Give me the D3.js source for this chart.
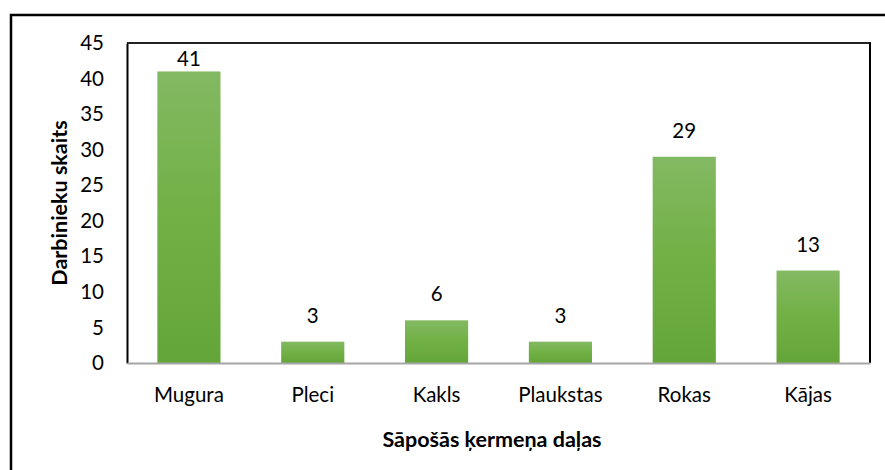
<!DOCTYPE html>
<html><head><meta charset="utf-8">
<script src="https://cdn.jsdelivr.net/npm/d3@7/dist/d3.min.js"></script>
<style>
body{margin:0;background:#fff;}
text{font-family:Lato,"Open Sans",sans-serif;fill:#000;}
</style></head>
<body><svg id="c" width="885" height="470"></svg>
<script>
const categories = ["Mugura","Pleci","Kakls","Plaukstas","Rokas","Kājas"];
const values = [41,3,6,3,29,13];
const yTicks = [0,5,10,15,20,25,30,35,40,45];
const yTitle = "Darbinieku skaits";
const xTitle = "Sāpošās ķermeņa daļas";

const svg = d3.select("#c");
const L=127, R=870, T=43, B=363;
const FS = 20.5;

// outer border
svg.append("rect").attr("x",11).attr("y",15).attr("width",900).attr("height",500)
  .attr("fill","none").attr("stroke","#000").attr("stroke-width",2.5);

const defs = svg.append("defs");
const g = defs.append("linearGradient").attr("id","gr").attr("x1",0).attr("y1",0).attr("x2",0).attr("y2",1);
g.append("stop").attr("offset","0%").attr("stop-color","#83b963");
g.append("stop").attr("offset","50%").attr("stop-color","#71b044");
g.append("stop").attr("offset","100%").attr("stop-color","#64a53a");

const x = d3.scaleBand().domain(categories).range([L,R]).paddingInner(0.49).paddingOuter(0.245);
const y = d3.scaleLinear().domain([0,45]).range([B,T]);

// plot frame
svg.append("line").attr("x1",L).attr("x2",R+1).attr("y1",T).attr("y2",T).attr("stroke","#222").attr("stroke-width",2);
svg.append("line").attr("x1",R).attr("x2",R).attr("y1",T).attr("y2",B).attr("stroke","#000").attr("stroke-width",2);

svg.selectAll("rect.bar").data(values).enter().append("rect").attr("class","bar")
  .attr("x",(d,i)=>x(categories[i])).attr("width",x.bandwidth())
  .attr("y",d=>y(d)).attr("height",d=>B-y(d)).attr("fill","url(#gr)");

// value labels
svg.selectAll("text.v").data(values).enter().append("text").attr("class","v")
  .attr("x",(d,i)=>x(categories[i])+x.bandwidth()/2).attr("y",d=>Math.max(y(d)-19, T+23))
  .attr("text-anchor","middle").attr("font-size",FS).text(d=>d);

// y axis
const ya = svg.append("g").attr("transform",`translate(${L},0)`)
  .call(d3.axisLeft(y).tickValues(yTicks).tickSize(0).tickPadding(23));
ya.select(".domain").attr("stroke","#000").attr("stroke-width",2);
ya.selectAll("text").attr("font-size",FS).attr("font-family","Lato,'Open Sans',sans-serif").attr("fill","#000");

// x axis
const xa = svg.append("g").attr("transform",`translate(0,${B})`)
  .call(d3.axisBottom(x).tickSize(0).tickPadding(24));
xa.select(".domain").attr("stroke","#a6a6a6").attr("stroke-width",2);
xa.selectAll("text").attr("font-size",FS).attr("font-family","Lato,'Open Sans',sans-serif").attr("fill","#000");

svg.append("text").attr("x",492).attr("y",447).attr("text-anchor","middle")
  .attr("font-size",21.5).attr("font-weight","bold").text(xTitle);
svg.append("text").attr("transform","translate(67,203) rotate(-90)").attr("text-anchor","middle")
  .attr("font-size",21.5).attr("font-weight","bold").text(yTitle);
</script></body></html>
